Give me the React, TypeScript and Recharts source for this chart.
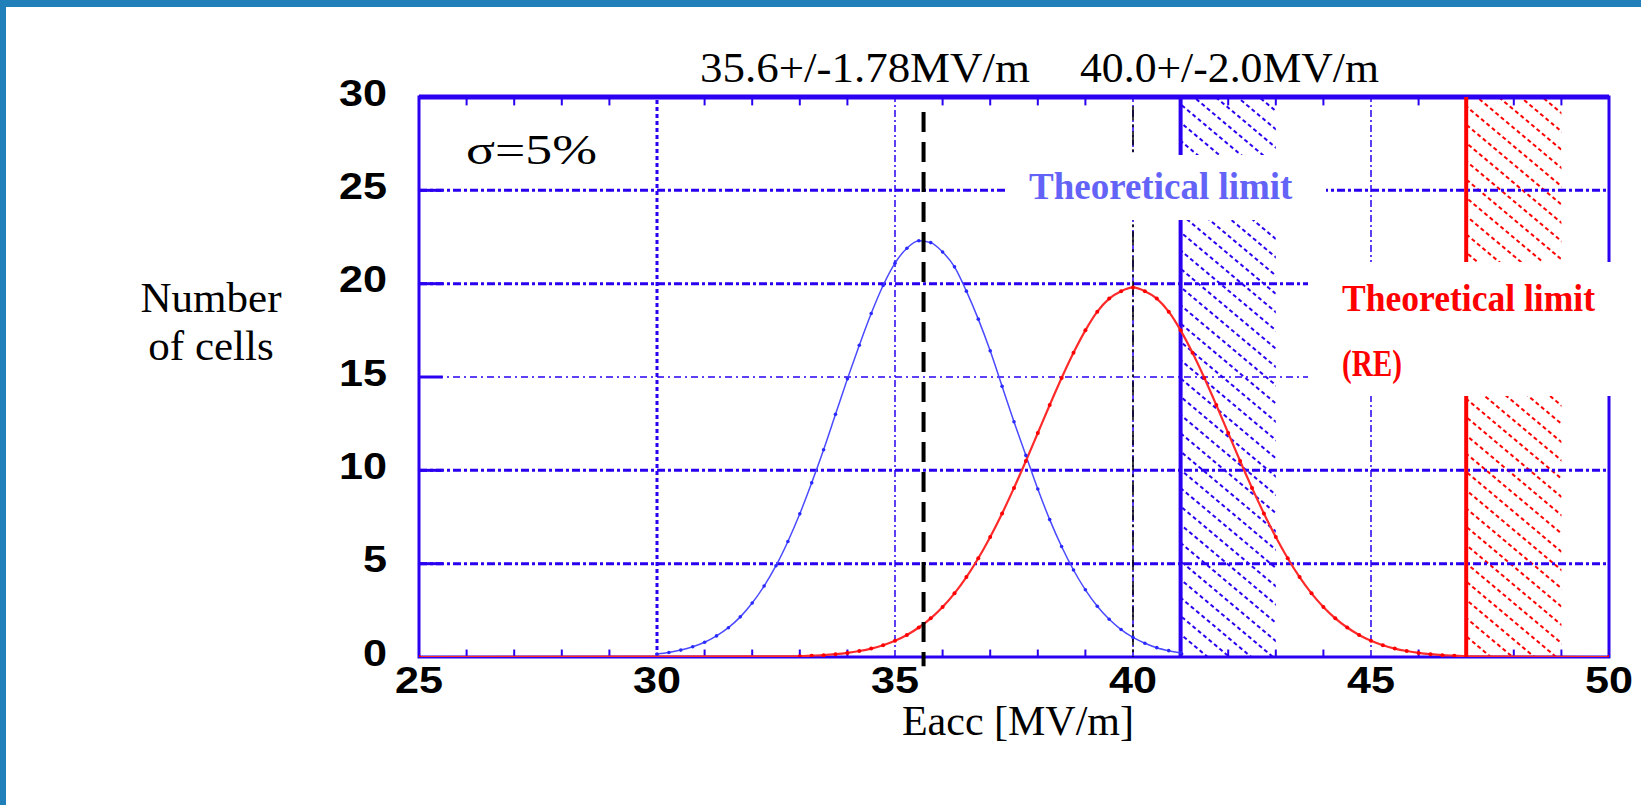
import { LineChart, Line, XAxis, YAxis, ReferenceLine, ReferenceArea, Label } from 'recharts';

const blueEacc = [
  30, 30.25, 30.5, 30.75, 31, 31.25, 31.5, 31.75, 32, 32.25, 32.5, 32.75, 33, 33.25, 33.5,
  33.75, 34, 34.25, 34.5, 34.75, 35, 35.25, 35.5, 35.75, 36, 36.25, 36.5, 36.75, 37, 37.25,
  37.5, 37.75, 38, 38.25, 38.5, 38.75, 39, 39.25, 39.5, 39.75, 40, 40.25, 40.5, 40.75, 41,
];
const blueCells = [
  0.16, 0.24, 0.37, 0.55, 0.79, 1.13, 1.57, 2.15, 2.89, 3.8, 4.89, 6.19, 7.67, 9.33, 11.1,
  13.0, 14.9, 16.7, 18.4, 19.9, 21.1, 21.9, 22.3, 22.2, 21.7, 20.9, 19.6, 18.1, 16.4, 14.5,
  12.6, 10.8, 9.0, 7.36, 5.92, 4.66, 3.6, 2.72, 2.02, 1.47, 1.05, 0.74, 0.5, 0.34, 0.22,
];

const redEacc = [
  25, 33, 33.25, 33.5, 33.75, 34, 34.25, 34.5, 34.75, 35, 35.25, 35.5, 35.75, 36, 36.25, 36.5,
  36.75, 37, 37.25, 37.5, 37.75, 38, 38.25, 38.5, 38.75, 39, 39.25, 39.5, 39.75, 40, 40.25,
  40.5, 40.75, 41, 41.25, 41.5, 41.75, 42, 42.25, 42.5, 42.75, 43, 43.25, 43.5, 43.75, 44,
  44.25, 44.5, 44.75, 45, 45.25, 45.5, 45.75, 46, 46.25, 46.5, 46.75, 47, 50,
];
const redCells = [
  0, 0.04, 0.07, 0.1, 0.15, 0.22, 0.32, 0.45, 0.63, 0.87, 1.18, 1.58, 2.07, 2.68, 3.41, 4.28,
  5.29, 6.43, 7.69, 9.06, 10.5, 12.0, 13.5, 14.95, 16.3, 17.5, 18.5, 19.2, 19.6, 19.8, 19.6,
  19.2, 18.5, 17.5, 16.3, 14.95, 13.5, 12.0, 10.5, 9.06, 7.69, 6.43, 5.29, 4.28, 3.41, 2.68,
  2.07, 1.58, 1.18, 0.87, 0.63, 0.45, 0.32, 0.22, 0.15, 0.1, 0.07, 0.04, 0,
];

const xTicks = [25, 30, 35, 40, 45, 50];
const yTicks = [0, 5, 10, 15, 20, 25, 30];
const minorTicks = [26, 27, 28, 29, 31, 32, 33, 34, 36, 37, 38, 39, 41, 42, 43, 44, 46, 47, 48, 49];
const xGrid = [30, 35, 40, 45];
const yGrid = [5, 10, 15, 20, 25];
const meanBlue = 35.6;
const meanRed = 40.0;
const limitBlue = 41;
const limitRed = 47;
const limitBand = 2;

const blueData = blueEacc.map((x, i) => ({ x, cells: blueCells[i] }));
const redData = redEacc.map((x, i) => ({ x, cells: redCells[i] }));

const BLUE = '#2b00f0';
const SANS = '"Liberation Sans", Arial, sans-serif';
const SERIF = '"Liberation Serif", "Times New Roman", serif';

const XTick = (p: any) => {
  const s = String(p.payload.value);
  return (
    <text x={p.x} y={p.y + 28} textAnchor="middle" fontFamily={SANS} fontWeight="bold" fontSize={36}
      fill="#000" textLength={s.length * 24} lengthAdjust="spacingAndGlyphs">{s}</text>
  );
};

const YTick = (p: any) => {
  const s = String(p.payload.value);
  return (
    <text x={p.x} y={p.y - 4} dominantBaseline="central" textAnchor="end" fontFamily={SANS} fontWeight="bold"
      fontSize={36} fill="#000" textLength={s.length * 24} lengthAdjust="spacingAndGlyphs">{s}</text>
  );
};

const XTitle = (props: any) => {
  const vb = props.viewBox;
  return (
    <text x={vb.x + vb.width / 2 + 4} y={vb.y + 78} textAnchor="middle" fontFamily={SERIF} fontSize={42} fill="#000">
      Eacc [MV/m]
    </text>
  );
};

const YTitle = () => (
  <text textAnchor="middle" fontFamily={SERIF} fontSize={43} fill="#000">
    <tspan x={211} y={312}>Number</tspan>
    <tspan x={211} y={360}>of cells</tspan>
  </text>
);

const gridStyle = (v: number) =>
  v === 15 ? { w: 1.5, dash: '7 4 2 4' } : { w: 3, dash: '8 3 3 3' };

export default function App() {
  return (
    <div style={{ position: 'absolute', left: 0, top: 0, width: 1641, height: 805, background: '#fff', overflow: 'hidden' }}>
      <div style={{ position: 'absolute', left: 0, top: 0, width: 1641, height: 7, background: '#2180b9' }} />
      <div style={{ position: 'absolute', left: 0, top: 0, width: 6, height: 805, background: '#2180b9' }} />
      <LineChart width={1641} height={805} margin={{ top: 97, right: 32, left: 0, bottom: 0 }}>
        <defs>
          <pattern id="hatchBlue" patternUnits="userSpaceOnUse" width="14" height="14" patternTransform="rotate(40)">
            <line x1="0" y1="7" x2="14" y2="7" stroke={BLUE} strokeWidth="1.8" strokeDasharray="4 3" />
          </pattern>
          <pattern id="hatchRed" patternUnits="userSpaceOnUse" width="14" height="14" patternTransform="rotate(40)">
            <line x1="0" y1="7" x2="14" y2="7" stroke="#ff0000" strokeWidth="1.8" strokeDasharray="4 3" />
          </pattern>
        </defs>
        <XAxis dataKey="x" type="number" domain={[25, 50]} ticks={xTicks} allowDataOverflow
          axisLine={false} tickLine={false} tickSize={0} tickMargin={8} height={148} tick={XTick}>
          <Label content={XTitle} />
        </XAxis>
        <YAxis type="number" domain={[0, 30]} ticks={yTicks} allowDataOverflow width={419}
          axisLine={false} tickLine={false} tickSize={0} tickMargin={32} tick={YTick}>
          <Label content={YTitle} />
        </YAxis>

        <ReferenceArea x1={limitBlue} x2={limitBlue + limitBand} y1={0} y2={30} fill="url(#hatchBlue)" fillOpacity={1} stroke="none" />
        <ReferenceArea x1={limitRed} x2={limitRed + limitBand} y1={0} y2={30} fill="url(#hatchRed)" fillOpacity={1} stroke="none" />

        {yGrid.map((v) => (
          <ReferenceLine key={'gy' + v} y={v} stroke={BLUE} strokeWidth={gridStyle(v).w} strokeDasharray={gridStyle(v).dash} />
        ))}
        {xGrid.map((v) => (
          <ReferenceLine key={'gx' + v} x={v} stroke={BLUE} strokeWidth={v === 30 ? 3 : 1.5}
            strokeDasharray={v === 30 ? '4 3' : '7 3 2 3'} />
        ))}
        {yGrid.map((v) => (
          <ReferenceLine key={'sy' + v} segment={[{ x: 25, y: v }, { x: 25.5, y: v }]} stroke={BLUE} strokeWidth={3} />
        ))}
        {minorTicks.map((v) => (
          <ReferenceLine key={'tt' + v} segment={[{ x: v, y: 30 }, { x: v, y: 29.55 }]} stroke={BLUE} strokeWidth={2} />
        ))}
        {minorTicks.map((v) => (
          <ReferenceLine key={'tb' + v} segment={[{ x: v, y: 0 }, { x: v, y: 0.4 }]} stroke={BLUE} strokeWidth={2} />
        ))}

        <ReferenceArea x1={25} x2={50} y1={0} y2={30} fill="none" stroke={BLUE} strokeWidth={3} />
        <ReferenceLine y={30} stroke={BLUE} strokeWidth={5} />

        <ReferenceLine x={limitBlue} stroke={BLUE} strokeWidth={4} />
        <ReferenceLine x={limitRed} stroke="#ff0000" strokeWidth={4} />

        <ReferenceLine segment={[{ x: meanRed, y: 29.5 }, { x: meanRed, y: 0 }]} stroke="#000" strokeWidth={1.5}
          strokeDasharray="14 4 3 4" />

        <Line data={blueData} dataKey="cells" type="monotone" stroke="#4a4aff" strokeWidth={1.5}
          dot={{ r: 1.8, fill: '#2a2aff', stroke: 'none' }} isAnimationActive={false} />
        <Line data={redData} dataKey="cells" type="monotone" stroke="#ff2a2a" strokeWidth={2.2}
          dot={{ r: 2, fill: '#ff0000', stroke: 'none' }} isAnimationActive={false} />

        <ReferenceLine segment={[{ x: meanBlue, y: 29.2 }, { x: meanBlue, y: -0.5 }]} ifOverflow="visible"
          stroke="#000" strokeWidth={4} strokeDasharray="20 10" />
      </LineChart>

      <svg width={1641} height={805} style={{ position: 'absolute', left: 0, top: 0, pointerEvents: 'none' }}>
        <text x={466} y={164} fontFamily={SERIF} fontSize={42} fill="#000" textLength={131} lengthAdjust="spacingAndGlyphs">σ=5%</text>
        <text x={700} y={82} fontFamily={SERIF} fontSize={42} fill="#000" textLength={330} lengthAdjust="spacingAndGlyphs">35.6+/-1.78MV/m</text>
        <text x={1080} y={82} fontFamily={SERIF} fontSize={42} fill="#000" textLength={299} lengthAdjust="spacingAndGlyphs">40.0+/-2.0MV/m</text>

        <rect x={1005} y={155} width={321} height={65} fill="#fff" />
        <text x={1029} y={199} fontFamily={SERIF} fontWeight="bold" fontSize={37} fill="#6363f7">Theoretical limit</text>

        <rect x={1308} y={262} width={325} height={134} fill="#fff" />
        <text x={1342} y={311} fontFamily={SERIF} fontWeight="bold" fontSize={37} fill="#ff0000" textLength={253} lengthAdjust="spacingAndGlyphs">Theoretical limit</text>
        <text x={1342} y={376} fontFamily={SERIF} fontWeight="bold" fontSize={37} fill="#ff0000" textLength={60} lengthAdjust="spacingAndGlyphs">(RE)</text>
      </svg>
    </div>
  );
}
